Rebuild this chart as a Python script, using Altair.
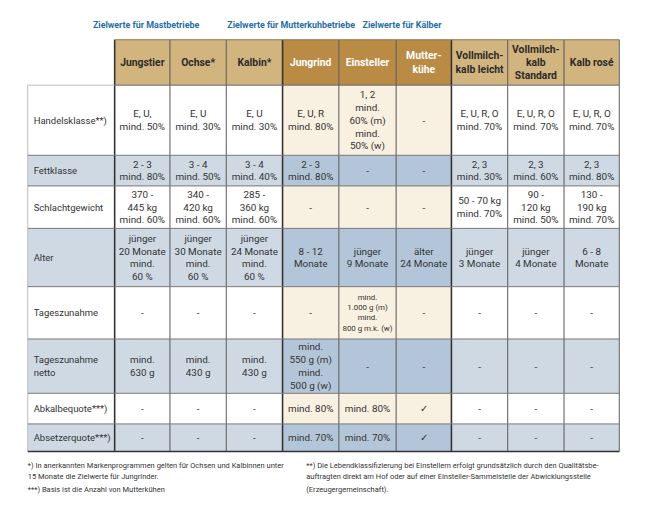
import altair as alt
import pandas as pd

# ---------------- data ----------------
group_titles = ["Zielwerte für Mastbetriebe", "Zielwerte für Mutterkuhbetriebe", "Zielwerte für Kälber"]
columns = ["Jungstier", "Ochse*", "Kalbin*", "Jungrind", "Einsteller", "Mutter-\nkühe",
           "Vollmilch-\nkalb leicht", "Vollmilch-\nkalb\nStandard", "Kalb rosé"]
column_group = [0, 0, 0, 1, 1, 1, 2, 2, 2]
row_labels = ["Handelsklasse**)", "Fettklasse", "Schlachtgewicht", "Alter", "Tageszunahme",
              "Tageszunahme\nnetto", "Abkalbequote***)", "Absetzerquote***)"]
row_shaded = [False, True, False, True, False, True, False, True]

handelsklasse = ["E, U,\nmind. 50%", "E, U\nmind. 30%", "E, U\nmind. 30%", "E, U, R\nmind. 80%",
                 "1, 2\nmind.\n60% (m)\nmind.\n50% (w)", "-",
                 "E, U, R, O\nmind. 70%", "E, U, R, O\nmind. 70%", "E, U, R, O\nmind. 70%"]
fettklasse = ["2 - 3\nmind. 80%", "3 - 4\nmind. 50%", "3 - 4\nmind. 40%", "2 - 3\nmind. 80%", "-", "-",
              "2, 3\nmind. 30%", "2, 3\nmind. 60%", "2, 3\nmind. 80%"]
schlachtgewicht = ["370 -\n445 kg\nmind. 60%", "340 -\n420 kg\nmind. 60%", "285 -\n360 kg\nmind. 60%",
                   "-", "-", "-", "50 - 70 kg\nmind. 70%", "90 -\n120 kg\nmind. 50%", "130 -\n190 kg\nmind. 70%"]
alter = ["jünger\n20 Monate\nmind.\n60 %", "jünger\n30 Monate\nmind.\n60 %", "jünger\n24 Monate\nmind.\n60 %",
         "8 - 12\nMonate", "jünger\n9 Monate", "älter\n24 Monate",
         "jünger\n3 Monate", "jünger\n4 Monate", "6 - 8\nMonate"]
tageszunahme = ["-", "-", "-", "-", "mind.\n1.000 g (m)\nmind.\n800 g m.k. (w)", "-", "-", "-", "-"]
tageszunahme_netto = ["mind.\n630 g", "mind.\n430 g", "mind.\n430 g", "mind.\n550 g (m)\nmind.\n500 g (w)",
                      "-", "-", "-", "-", "-"]
abkalbequote = ["-", "-", "-", "mind. 80%", "mind. 80%", "✓", "-", "-", "-"]
absetzerquote = ["-", "-", "-", "mind. 70%", "mind. 70%", "✓", "-", "-", "-"]
values = [handelsklasse, fettklasse, schlachtgewicht, alter, tageszunahme,
          tageszunahme_netto, abkalbequote, absetzerquote]

footnotes_left = ["*) In anerkannten Markenprogrammen gelten für Ochsen und Kalbinnen unter",
                  "15 Monate die Zielwerte für Jungrinder.",
                  "***) Basis ist die Anzahl von Mutterkühen"]
footnotes_right = ["**) Die Lebendklassifizierung bei Einstellern erfolgt grundsätzlich durch den Qualitätsbe-",
                   "auftragten direkt am Hof oder auf einer Einsteller-Sammelstelle der Abwicklungsstelle",
                   "(Erzeugergemeinschaft)."]

# ---------------- layout / style ----------------
W, H = 645, 502
col_edges = [28, 116, 172, 229, 286, 343, 401, 457, 514, 571, 627]
header_top, header_bottom = 37, 83
row_edges = [83, 154, 185, 228, 287, 340, 395, 426, 454]
title_x = [94, 230, 367]
title_y = 22
foot_left_y = [469, 480, 493]
foot_right_y = [469, 480, 493]
foot_left_x, foot_right_x = 28, 310
small_cells = {(4, 4)}

FONT = "Roboto"
TXT = "#333333"
BODY_FS, BODY_LH = 10, 13
SMALL_FS, SMALL_LH = 8, 10.5
HEAD_FS, HEAD_LH = 10.5, 13.5
LAB_FS, LAB_LH = 9.6, 13
TITLE_FS = 9
FOOT_FS = 7.6
fill_plain = {False: "#ffffff", True: "#cfd9e4"}
fill_mk = {False: "#f8f0e0", True: "#b3c5d8"}
head_fill = ["#d2b47f", "#b98b45", "#d2b47f"]
head_text = ["#2b2b2b", "#ffffff", "#2b2b2b"]

xs = alt.Scale(domain=[8, 8 + W], range=[0, W], nice=False, zero=False)
ys = alt.Scale(domain=[8, 8 + H], range=[0, H], nice=False, zero=False)


def X(f):
    return alt.X(f, type="quantitative", scale=xs, axis=None)


def Y(f):
    return alt.Y(f, type="quantitative", scale=ys, axis=None)


def first_line_y(center, text, lh):
    n = text.count("\n") + 1
    return center - (n - 1) * lh / 2


# cells
cells = []
for j, name in enumerate(columns):
    g = column_group[j]
    cells.append(dict(x0=col_edges[j + 1], x1=col_edges[j + 2], y0=header_top, y1=header_bottom,
                      fill=head_fill[g]))
for i, lab in enumerate(row_labels):
    sh = row_shaded[i]
    cells.append(dict(x0=col_edges[0], x1=col_edges[1], y0=row_edges[i], y1=row_edges[i + 1],
                      fill=fill_plain[sh]))
    for j in range(len(columns)):
        f = fill_mk[sh] if column_group[j] == 1 else fill_plain[sh]
        cells.append(dict(x0=col_edges[j + 1], x1=col_edges[j + 2], y0=row_edges[i], y1=row_edges[i + 1],
                          fill=f))
cells_df = pd.DataFrame(cells)

rects = alt.Chart(cells_df).mark_rect(strokeWidth=0).encode(
    x=X("x0"), x2="x1", y=Y("y0"), y2="y1", fill=alt.Fill("fill:N", scale=None))

# header text
head_df = pd.DataFrame([dict(x=(col_edges[j + 1] + col_edges[j + 2]) / 2,
                             y=first_line_y((header_top + header_bottom) / 2 + 0.5, name, HEAD_LH),
                             t=name, c=head_text[column_group[j]]) for j, name in enumerate(columns)])
head_txt = alt.Chart(head_df).mark_text(font=FONT, fontSize=HEAD_FS, fontWeight="bold", lineBreak="\n",
                                        lineHeight=HEAD_LH, align="center", baseline="middle").encode(
    x=X("x"), y=Y("y"), text="t:N", color=alt.Color("c:N", scale=None))

# body text
body, body_small = [], []
for i, row in enumerate(values):
    for j, v in enumerate(row):
        small = (i, j) in small_cells
        lh = SMALL_LH if small else BODY_LH
        d = dict(x=(col_edges[j + 1] + col_edges[j + 2]) / 2,
                 y=first_line_y((row_edges[i] + row_edges[i + 1]) / 2 + 0.5, v, lh), t=v)
        (body_small if small else body).append(d)
body_txt = alt.Chart(pd.DataFrame(body)).mark_text(font=FONT, fontSize=BODY_FS, lineBreak="\n",
                                                   lineHeight=BODY_LH, align="center", baseline="middle",
                                                   color=TXT).encode(
    x=X("x"), y=Y("y"), text="t:N")
small_txt = alt.Chart(pd.DataFrame(body_small)).mark_text(font=FONT, fontSize=SMALL_FS, lineBreak="\n",
                                                          lineHeight=SMALL_LH, align="center",
                                                          baseline="middle", color=TXT).encode(
    x=X("x"), y=Y("y"), text="t:N")

lab_df = pd.DataFrame([dict(x=col_edges[0] + 6,
                            y=first_line_y((row_edges[i] + row_edges[i + 1]) / 2 + 0.5, l, LAB_LH), t=l)
                       for i, l in enumerate(row_labels)])
lab_txt = alt.Chart(lab_df).mark_text(font=FONT, fontSize=LAB_FS, lineBreak="\n", lineHeight=LAB_LH,
                                      align="left", baseline="middle", color=TXT).encode(
    x=X("x"), y=Y("y"), text="t:N")

# rules
rules = []
for k, e in enumerate(col_edges):
    if k == 0:
        rules.append(dict(x=e, x2=e, y=header_bottom, y2=row_edges[-1], c="#bbbbbb", w=1))
    elif e in (116, 286, 457):
        rules.append(dict(x=e, x2=e, y=header_top, y2=row_edges[-1], c="#333333", w=1.6))
    elif k == len(col_edges) - 1:
        rules.append(dict(x=e, x2=e, y=header_top, y2=row_edges[-1], c="#777777", w=1.2))
    else:
        rules.append(dict(x=e, x2=e, y=header_top, y2=row_edges[-1], c="#555555", w=1))
rules.append(dict(x=col_edges[0], x2=col_edges[1], y=header_bottom, y2=header_bottom, c="#bbbbbb", w=1))
rules.append(dict(x=col_edges[1], x2=col_edges[-1], y=header_top, y2=header_top, c="#8c7650", w=1))
rules.append(dict(x=col_edges[1], x2=col_edges[-1], y=header_bottom, y2=header_bottom, c="#666666", w=1))
for e in row_edges[1:-1]:
    rules.append(dict(x=col_edges[0], x2=col_edges[-1], y=e, y2=e, c="#777777", w=1))
rules.append(dict(x=col_edges[0], x2=col_edges[-1], y=row_edges[-1], y2=row_edges[-1], c="#333333", w=1.6))
rules_df = pd.DataFrame(rules)
rule_layer = alt.Chart(rules_df).mark_rule().encode(
    x=X("x"), x2="x2", y=Y("y"), y2="y2",
    color=alt.Color("c:N", scale=None), strokeWidth=alt.StrokeWidth("w:Q", scale=None))

# titles
tit_df = pd.DataFrame([dict(x=title_x[k], y=title_y, t=t) for k, t in enumerate(group_titles)])
tit_txt = alt.Chart(tit_df).mark_text(font=FONT, fontSize=TITLE_FS, fontWeight="bold", align="left",
                                      baseline="middle", color="#1f6ea8").encode(
    x=X("x"), y=Y("y"), text="t:N")

foot = [dict(x=foot_left_x, y=foot_left_y[k], t=t) for k, t in enumerate(footnotes_left)] + \
       [dict(x=foot_right_x, y=foot_right_y[k], t=t) for k, t in enumerate(footnotes_right)]
foot_txt = alt.Chart(pd.DataFrame(foot)).mark_text(font=FONT, fontSize=FOOT_FS, align="left",
                                                   baseline="middle", color="#333333").encode(
    x=X("x"), y=Y("y"), text="t:N")

chart = alt.layer(rects, rule_layer, head_txt, body_txt, small_txt, lab_txt, tit_txt, foot_txt).properties(
    width=W, height=H, padding=0, autosize=alt.AutoSizeParams(type="none")
).configure_view(stroke=None)

chart.save("out.html", embed_options={"renderer": "svg", "actions": False})
